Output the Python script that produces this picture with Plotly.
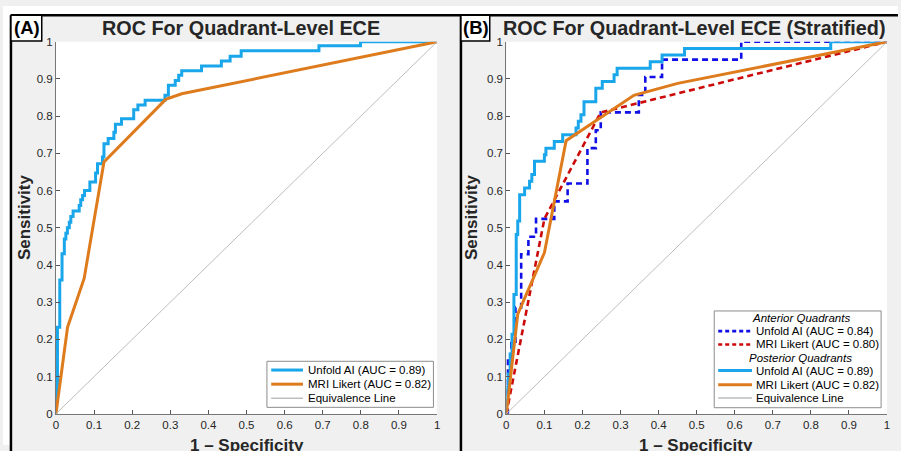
import plotly.graph_objects as go

W, H = 901, 451
FONT = "Liberation Sans, Arial, Helvetica, sans-serif"

# ---------------- data ----------------
ticks = [0, 0.1, 0.2, 0.3, 0.4, 0.5, 0.6, 0.7, 0.8, 0.9, 1]
tick_labels = ["0", "0.1", "0.2", "0.3", "0.4", "0.5", "0.6", "0.7", "0.8", "0.9", "1"]

# Panel A  (step curve: points given at each vertical rise, drawn with 'hv')
a_ai_fpr = [0, 0, 0.004, 0.010, 0.016, 0.022, 0.026, 0.030, 0.035, 0.039, 0.045, 0.061, 0.065,
            0.070, 0.075, 0.089, 0.104, 0.109, 0.122, 0.126, 0.137, 0.152, 0.156, 0.172, 0.204,
            0.215, 0.234, 0.286, 0.295, 0.313, 0.322, 0.330, 0.382, 0.434, 0.457, 0.486, 0.690,
            0.799, 1.0]
a_ai_tpr = [0, 0.05, 0.233, 0.36, 0.43, 0.47, 0.485, 0.50, 0.515, 0.53, 0.545, 0.56, 0.575,
            0.587, 0.60, 0.623, 0.647, 0.672, 0.69, 0.726, 0.74, 0.757, 0.778, 0.793, 0.817,
            0.83, 0.843, 0.856, 0.883, 0.896, 0.91, 0.922, 0.935, 0.948, 0.961, 0.976, 0.989,
            1.0, 1.0]
a_lik_fpr = [0, 0.0305, 0.074, 0.126, 0.288, 0.33, 1.0]
a_lik_tpr = [0, 0.233, 0.364, 0.677, 0.845, 0.86, 1.0]

# Panel B - anterior quadrants
b_ant_ai_fpr = [0, 0.004, 0.013, 0.024, 0.039, 0.058, 0.078, 0.126, 0.161, 0.213, 0.235, 0.248,
                0.348, 0.365, 0.409, 0.617, 1.0]
b_ant_ai_tpr = [0, 0.143, 0.19, 0.286, 0.429, 0.476, 0.524, 0.571, 0.619, 0.714, 0.762, 0.810,
                0.857, 0.905, 0.952, 1.0, 1.0]
b_ant_lik_fpr = [0, 0.1, 0.248, 1.0]
b_ant_lik_tpr = [0, 0.524, 0.81, 1.0]

# Panel B - posterior quadrants
b_post_ai_fpr = [0, 0, 0.005, 0.010, 0.015, 0.020, 0.026, 0.030, 0.035, 0.048, 0.061, 0.067,
                 0.074, 0.100, 0.104, 0.126, 0.148, 0.183, 0.189, 0.196, 0.204, 0.235, 0.252,
                 0.283, 0.291, 0.378, 0.409, 0.468, 0.852, 1.0]
b_post_ai_tpr = [0, 0.071, 0.107, 0.161, 0.214, 0.321, 0.482, 0.518, 0.589, 0.607, 0.625, 0.643,
                 0.679, 0.696, 0.714, 0.732, 0.75, 0.768, 0.786, 0.804, 0.839, 0.875, 0.893,
                 0.911, 0.929, 0.946, 0.964, 0.982, 1.0, 1.0]
b_post_lik_fpr = [0, 0.03, 0.1, 0.157, 0.335, 0.45, 1.0]
b_post_lik_tpr = [0, 0.268, 0.433, 0.734, 0.856, 0.888, 1.0]

equiv = [0, 1]

legend_a = ["Unfold AI (AUC = 0.89)", "MRI Likert (AUC = 0.82)", "Equivalence Line"]
legend_b = ["Anterior Quadrants", "Unfold AI (AUC = 0.84)", "MRI Likert (AUC = 0.80)",
            "Posterior Quadrants", "Unfold AI (AUC = 0.89)", "MRI Likert (AUC = 0.82)",
            "Equivalence Line"]

# ---------------- styles ----------------
C_AI = "#1AA6EA"
C_LIK = "#DE7B1C"
C_ANT_AI = "#1010E6"
C_ANT_LIK = "#CC0A0A"
C_EQ = "#BDBDBD"


def px(x):
    return x / W


def py(y):
    return (H - y) / H


fig = go.Figure()

# Panel A traces
fig.add_trace(go.Scatter(x=a_ai_fpr, y=a_ai_tpr, mode="lines", line=dict(color=C_AI, width=3, shape="hv"),
                         xaxis="x", yaxis="y", showlegend=False))
fig.add_trace(go.Scatter(x=a_lik_fpr, y=a_lik_tpr, mode="lines", line=dict(color=C_LIK, width=3),
                         xaxis="x", yaxis="y", showlegend=False))
fig.add_trace(go.Scatter(x=equiv, y=equiv, mode="lines", line=dict(color=C_EQ, width=1),
                         xaxis="x", yaxis="y", showlegend=False))

# Panel B traces
fig.add_trace(go.Scatter(x=b_ant_ai_fpr, y=b_ant_ai_tpr, mode="lines",
                         line=dict(color=C_ANT_AI, width=2.6, shape="hv", dash="6px,4px"),
                         xaxis="x2", yaxis="y2", showlegend=False))
fig.add_trace(go.Scatter(x=b_ant_lik_fpr, y=b_ant_lik_tpr, mode="lines",
                         line=dict(color=C_ANT_LIK, width=2.6, dash="6px,4px"),
                         xaxis="x2", yaxis="y2", showlegend=False))
fig.add_trace(go.Scatter(x=b_post_ai_fpr, y=b_post_ai_tpr, mode="lines",
                         line=dict(color=C_AI, width=3, shape="hv"),
                         xaxis="x2", yaxis="y2", showlegend=False))
fig.add_trace(go.Scatter(x=b_post_lik_fpr, y=b_post_lik_tpr, mode="lines",
                         line=dict(color=C_LIK, width=3),
                         xaxis="x2", yaxis="y2", showlegend=False))
fig.add_trace(go.Scatter(x=equiv, y=equiv, mode="lines", line=dict(color=C_EQ, width=1),
                         xaxis="x2", yaxis="y2", showlegend=False))

axis_common = dict(range=[0, 1], tickvals=ticks, ticktext=tick_labels, ticks="inside", ticklen=4,
                   tickcolor="#555", showline=True, linecolor="#777", linewidth=1, showgrid=False,
                   zeroline=False, tickfont=dict(family=FONT, size=11.5, color="#262626"),
                   fixedrange=True)

ydom = [py(419), py(36.7)]
fig.update_layout(
    width=W, height=H, margin=dict(l=0, r=0, t=0, b=0),
    paper_bgcolor="#F0F0F0", plot_bgcolor="white",
    showlegend=False,
    xaxis=dict(domain=[px(53.3), px(437)], anchor="y", **axis_common),
    yaxis=dict(domain=ydom, anchor="x", **axis_common),
    xaxis2=dict(domain=[px(506.7), px(890)], anchor="y2", **axis_common),
    yaxis2=dict(domain=ydom, anchor="x2", **axis_common),
)

shapes = []
annos = []

# white strips outside the panel borders
shapes.append(dict(type="rect", xref="paper", yref="paper", x0=px(0), x1=px(8), y0=py(451), y1=py(0),
                   fillcolor="white", line=dict(width=0), layer="below"))
shapes.append(dict(type="rect", xref="paper", yref="paper", x0=px(0), x1=px(901), y0=py(9), y1=py(0),
                   fillcolor="white", line=dict(width=0), layer="below"))
# panel borders
for (x0, y0, x1, y1) in [(8, 9.5, 8, 460), (8, 9.5, 901, 9.5), (461, 9.5, 461, 460)]:
    shapes.append(dict(type="line", xref="paper", yref="paper", x0=px(x0), y0=py(y0), x1=px(x1), y1=py(y1),
                       line=dict(color="black", width=2.5)))
# (A) / (B) boxes
for (x0, x1, lab) in [(8, 39, "(A)"), (461, 490, "(B)")]:
    shapes.append(dict(type="rect", xref="paper", yref="paper", x0=px(x0), x1=px(x1), y0=py(36), y1=py(9.5),
                       fillcolor="white", line=dict(color="black", width=1.5)))
    annos.append(dict(text="<b>%s</b>" % lab, xref="paper", yref="paper", x=px((x0 + x1) / 2 + 1), y=py(22.5),
                      xanchor="center", yanchor="middle", showarrow=False,
                      font=dict(family=FONT, size=18.5, color="black")))

# titles
annos.append(dict(text="<b>ROC For Quadrant-Level ECE</b>", xref="paper", yref="paper", x=px(240), y=py(22.5),
                  xanchor="center", yanchor="middle", showarrow=False,
                  font=dict(family=FONT, size=19.8, color="#262626")))
annos.append(dict(text="<b>ROC For Quadrant-Level ECE (Stratified)</b>", xref="paper", yref="paper",
                  x=px(696), y=py(22.5), xanchor="center", yanchor="middle", showarrow=False,
                  font=dict(family=FONT, size=19.8, color="#262626")))
# axis titles
for xc in (21, 471):
    annos.append(dict(text="<b>Sensitivity</b>", xref="paper", yref="paper", x=px(xc), y=py(217),
                      xanchor="center", yanchor="middle", textangle=-90, showarrow=False,
                      font=dict(family=FONT, size=17, color="#262626")))
for xc in (246, 698):
    annos.append(dict(text="<b>1 – Specificity</b>", xref="paper", yref="paper", x=px(xc), y=py(452),
                      xanchor="center", yanchor="middle", showarrow=False,
                      font=dict(family=FONT, size=17, color="#262626")))

LF = dict(family=FONT, size=11.5, color="black")

# Legend A
shapes.append(dict(type="rect", xref="paper", yref="paper", x0=px(265.7), x1=px(433.3), y0=py(412.3), y1=py(365),
                   fillcolor="white", line=dict(color="#8c8c8c", width=1)))
for i, (lab, col, wdt) in enumerate(zip(legend_a, [C_AI, C_LIK, C_EQ], [3, 3, 1.5])):
    yy = [374, 388.5, 403][i]
    shapes.append(dict(type="line", xref="paper", yref="paper", x0=px(270), x1=px(302), y0=py(yy), y1=py(yy),
                       line=dict(color=col, width=wdt)))
    annos.append(dict(text=lab, xref="paper", yref="paper", x=px(305), y=py(yy), xanchor="left",
                      yanchor="middle", showarrow=False, font=LF))

# Legend B
shapes.append(dict(type="rect", xref="paper", yref="paper", x0=px(716), x1=px(884), y0=py(412.7), y1=py(313.3),
                   fillcolor="white", line=dict(color="#8c8c8c", width=1)))
rows_b = [320.7, 334, 347.7, 361.3, 374.5, 389, 402.7]
styles_b = [None, (C_ANT_AI, 2.6, "4px,3px"), (C_ANT_LIK, 2.6, "4px,3px"), None,
            (C_AI, 3, "solid"), (C_LIK, 3, "solid"), (C_EQ, 1.5, "solid")]
for lab, yy, st in zip(legend_b, rows_b, styles_b):
    if st is None:
        annos.append(dict(text="<i>%s</i>" % lab, xref="paper", yref="paper", x=px(803), y=py(yy),
                          xanchor="center", yanchor="middle", showarrow=False, font=LF))
    else:
        col, wdt, dsh = st
        shapes.append(dict(type="line", xref="paper", yref="paper", x0=px(720), x1=px(754), y0=py(yy), y1=py(yy),
                           line=dict(color=col, width=wdt, dash=dsh)))
        annos.append(dict(text=lab, xref="paper", yref="paper", x=px(756), y=py(yy), xanchor="left",
                          yanchor="middle", showarrow=False, font=LF))

fig.update_layout(shapes=shapes, annotations=annos)
fig.write_html("out.html", config={"displayModeBar": False},
               post_script="document.body.style.margin='0';document.body.style.overflow='hidden';")
